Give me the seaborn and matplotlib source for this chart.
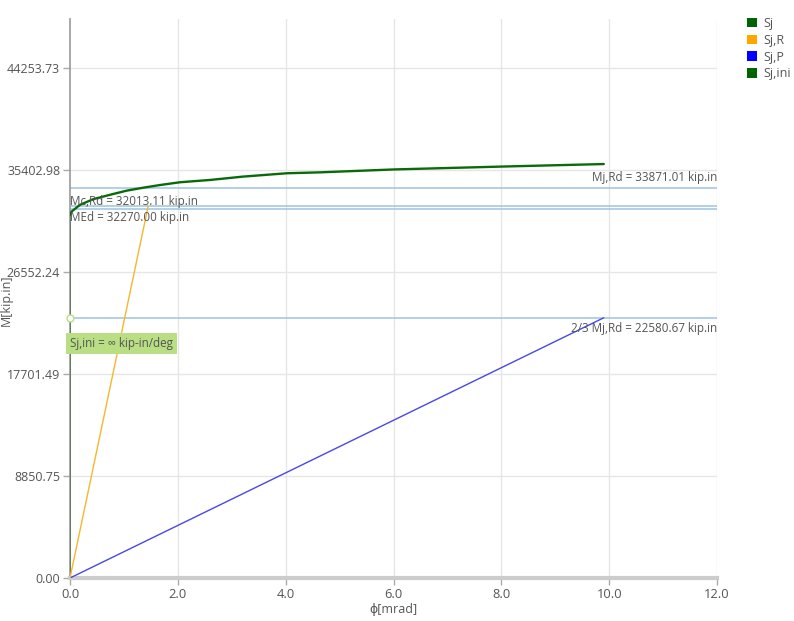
import matplotlib
matplotlib.use("Agg")
import matplotlib.pyplot as plt
import seaborn as sns
import pandas as pd
from matplotlib.patches import Patch

# ---- data ----
sj_phi = [0.0, 0.03, 0.185, 0.43, 0.74, 1.05, 1.36, 1.67, 2.04, 2.6, 3.21, 4.02, 4.64, 6.0, 8.0, 9.9]
sj_m = [31500, 31800, 32380, 32870, 33250, 33610, 33870, 34100, 34340, 34540, 34830, 35120,
        35200, 35450, 35700, 35920]
sjr_phi = [0.0, 1.45]
sjr_m = [0.0, 32270.0]
sjp_phi = [0.0, 9.9]
sjp_m = [0.0, 22580.67]
sjini_phi = [0.0, 0.0]
sjini_m = [0.0, 31500]

ref_names = ["Mj,Rd", "Mc,Rd", "MEd", "2/3 Mj,Rd"]
ref_values = [33871.01, 32013.11, 32270.00, 22580.67]

y_ticks = [0.00, 8850.75, 17701.49, 26552.24, 35402.98, 44253.73]
x_ticks = [0.0, 2.0, 4.0, 6.0, 8.0, 10.0, 12.0]

series = ["Sj", "Sj,R", "Sj,P", "Sj,ini"]
colors = {"Sj": "#006400", "Sj,R": "#FFA500", "Sj,P": "#0000FF", "Sj,ini": "#006400"}

rows = []
for name, xs, ys in [("Sj", sj_phi, sj_m), ("Sj,R", sjr_phi, sjr_m),
                     ("Sj,P", sjp_phi, sjp_m), ("Sj,ini", sjini_phi, sjini_m)]:
    for i, (a, b) in enumerate(zip(xs, ys)):
        rows.append({"series": name, "phi": a, "M": b, "order": i})
df = pd.DataFrame(rows)

sns.set_theme(style="white")
plt.rcParams["font.family"] = ["Open Sans", "DejaVu Sans"]

fig = plt.figure(figsize=(7.94, 6.21), dpi=100)
ax = fig.add_axes([70 / 794, 1 - 578 / 621, (717 - 70) / 794, (578 - 19) / 621])

txt = "#555555"
grid = "#e6e6e6"

# grid lines
for t in x_ticks[1:]:
    ax.axvline(t, color=grid, lw=1, zorder=0)
for t in y_ticks[1:]:
    ax.axhline(t, color=grid, lw=1, zorder=0)

# reference lines
for v in ref_values:
    ax.axhline(v, color="#9cc3e0", lw=1.1, zorder=1)

widths = {"Sj": 1.7, "Sj,R": 1.0, "Sj,P": 1.0, "Sj,ini": 1.2}
line_colors = {"Sj": "#0a6a0a", "Sj,R": "#F7B531", "Sj,P": "#4848E8", "Sj,ini": "#4f7a4f"}
for s in ["Sj,ini", "Sj,P", "Sj,R", "Sj"]:
    sub = df[df["series"] == s]
    sns.lineplot(data=sub, x="phi", y="M", sort=False, estimator=None,
                 color=line_colors[s], lw=widths[s], ax=ax, legend=False, zorder=3)

ax.set_xlim(0, 12)
ax.set_ylim(0, 48506)
ax.set_xticks(x_ticks)
ax.set_xticklabels([f"{t:.1f}" for t in x_ticks], color=txt, fontsize=9.3)
ax.set_yticks(y_ticks)
ax.set_yticklabels([f"{t:.2f}" for t in y_ticks], color=txt, fontsize=9.0)
ax.tick_params(axis="both", length=5, width=1, color="#aaaaaa", pad=2, bottom=True, left=True)
ax.set_xlabel("ϕ[mrad]", color=txt, fontsize=9, labelpad=2)
ax.set_ylabel("")
fig.text(6 / 794, 1 - 300 / 621, "M[kip.in]", rotation=90, ha="center", va="center",
         color=txt, fontsize=9)

for side in ["top", "right"]:
    ax.spines[side].set_visible(False)
ax.spines["left"].set_color("#999999")
ax.spines["left"].set_linewidth(1.2)
ax.spines["bottom"].set_color("#cccccc")
ax.spines["bottom"].set_linewidth(3)

fs = 8.4
# reference labels
ax.text(12, ref_values[0] + 350, f"{ref_names[0]} = {ref_values[0]:.2f} kip.in",
        ha="right", va="bottom", color=txt, fontsize=fs, zorder=4)
ax.text(0.0, ref_values[1] + 100, f"{ref_names[1]} = {ref_values[1]:.2f} kip.in",
        ha="left", va="bottom", color=txt, fontsize=fs, zorder=4)
ax.text(0.0, ref_values[2] - 450, f"{ref_names[2]} = {ref_values[2]:.2f} kip.in",
        ha="left", va="top", color=txt, fontsize=fs, zorder=4)
ax.text(12, ref_values[3] - 350, f"{ref_names[3]} = {ref_values[3]:.2f} kip.in",
        ha="right", va="top", color=txt, fontsize=fs, zorder=4)

# Sj,ini annotation
ax.plot([0], [ref_values[3]], marker="o", ms=5, mfc="white", mec="#b9de84", mew=1, zorder=5, clip_on=False)
ax.annotate("Sj,ini = ∞ kip-in/deg", xy=(0, ref_values[3]), xytext=(0.0, 20350),
            ha="left", va="center", color=txt, fontsize=fs, zorder=6,
            bbox=dict(boxstyle="square,pad=0.35", fc="#b9de84", ec="none"),
            annotation_clip=False)

# legend
handles = [Patch(facecolor=colors[s], edgecolor="none", label=s) for s in series]
leg = fig.legend(handles=handles, loc="upper left", bbox_to_anchor=(742 / 794, 1 - 12 / 621),
                 frameon=False, fontsize=9, handlelength=0.8, handleheight=0.8,
                 handletextpad=0.5, labelspacing=0.3, borderaxespad=0)
for t in leg.get_texts():
    t.set_color(txt)

fig.savefig("out.png", dpi=100)
